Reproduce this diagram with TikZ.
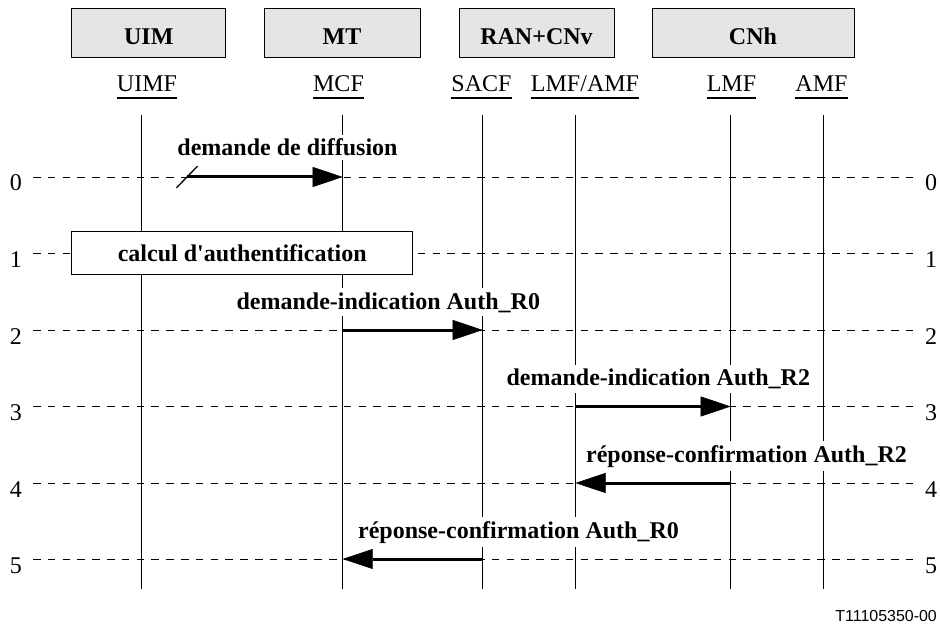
\documentclass[tikz,border=0pt]{standalone}
\usepackage{fontspec}
\setmainfont{Liberation Serif}
\newfontfamily\refsans{Liberation Sans}
\usetikzlibrary{arrows.meta}
\definecolor{boxgray}{RGB}{229,229,229}

\begin{document}
\begin{tikzpicture}[x=1bp,y=-1bp,
  hdr/.style={draw, line width=1bp, fill=boxgray, minimum width=#1,
    minimum height=49bp, inner sep=0pt, text height=24bp, text depth=0pt,
    font=\bfseries\fontsize{24.1}{28}\selectfont},
  ent/.style={font=\fontsize{24.1}{28}\selectfont, inner sep=0pt, anchor=base},
  uline/.style={line width=1.2bp},
  life/.style={line width=1.1bp},
  level/.style={line width=0.95bp, dash pattern=on 7.5bp off 7.3bp},
  num/.style={font=\fontsize{24.1}{28}\selectfont, inner sep=0pt, anchor=base},
  calcbox/.style={draw, line width=1bp, fill=white, minimum width=341bp,
    minimum height=42bp, inner sep=0pt,
    font=\bfseries\fontsize{24.1}{28}\selectfont},
  msg/.style={line width=3bp,
    -{Triangle[length=30bp,width=20bp,line width=0.5bp]}},
  slash/.style={line width=1.3bp},
  mlabel/.style={font=\bfseries\fontsize{24.1}{28}\selectfont, anchor=base,
    fill=white, inner xsep=1bp, inner ysep=4bp},
]
\useasboundingbox (0,0) rectangle (940,624);

% entity boxes
\node[hdr=154bp] (uim) at (148.8,32.8) {UIM};
\node[hdr=156bp] (mt) at (342,32.8) {MT};
\node[hdr=155bp] (ran) at (536.5,32.8) {RAN+CNv};
\node[hdr=202bp] (cnh) at (753,32.8) {CNh};

% functional entities
\node[ent] (uimf) at (147,92) {UIMF};
\node[ent] (mcf) at (338.5,92) {MCF};
\node[ent] (sacf) at (481.5,92) {SACF};
\node[ent] (lmfamf) at (585,92) {LMF/AMF};
\node[ent] (lmf) at (731.5,92) {LMF};
\node[ent] (amf) at (821.5,92) {AMF};
\foreach \n in {uimf,mcf,sacf,lmfamf,lmf,amf}
  \draw[uline] ([yshift=-6bp]\n.base west) -- ([yshift=-6bp]\n.base east);

% time levels
\foreach \i/\y in {0/177,1/253.3,2/330,3/406.5,4/483,5/559}{
  \coordinate (lv\i-w) at (33,\y);
  \coordinate (lv\i-e) at (913,\y);
  \draw[level] (lv\i-w) -- (lv\i-e);
  \node[num] (nl\i) at (16,\y+14) {\i};
  \node[num] (nr\i) at (931,\y+14) {\i};
}

% lifelines
\foreach \n/\x in {uimf/141.7,mcf/342.7,sacf/482.7,lmfamf/575.5,lmf/730.7,amf/823.3}{
  \coordinate (\n-top) at (\x,115);
  \coordinate (\n-bot) at (\x,589);
  \draw[life] (\n-top) -- (\n-bot);
}

% local processing
\node[calcbox] (calc) at (242.2,253) {calcul d\textquotesingle authentification};

% messages
\coordinate (m0s) at (187,177);
\draw[msg] (m0s) -- (mcf-top |- lv0-w);
\draw[slash] ([shift={(-10.5bp,-10.8bp)}]m0s) -- ([shift={(10.5bp,10.8bp)}]m0s);
\draw[msg] (mcf-top |- lv2-w) -- (sacf-top |- lv2-w);
\draw[msg] (lmfamf-top |- lv3-w) -- (lmf-top |- lv3-w);
\draw[msg] (lmf-top |- lv4-w) -- (lmfamf-top |- lv4-w);
\draw[msg] (sacf-top |- lv5-w) -- (mcf-top |- lv5-w);

% message labels
\node[mlabel] (t0) at (287.5,156) {demande de diffusion};
\node[mlabel] (t2) at (388.3,309) {demande-indication Auth\_R0};
\node[mlabel] (t3) at (658.3,385.5) {demande-indication Auth\_R2};
\node[mlabel] (t4) at (746.5,462) {réponse-confirmation Auth\_R2};
\node[mlabel] (t5) at (518.5,538) {réponse-confirmation Auth\_R0};

% figure reference
\node[font=\refsans\fontsize{16}{19}\selectfont, inner sep=0pt, anchor=base east]
  (ref) at (937,621) {T11105350-00};
\end{tikzpicture}
\end{document}
